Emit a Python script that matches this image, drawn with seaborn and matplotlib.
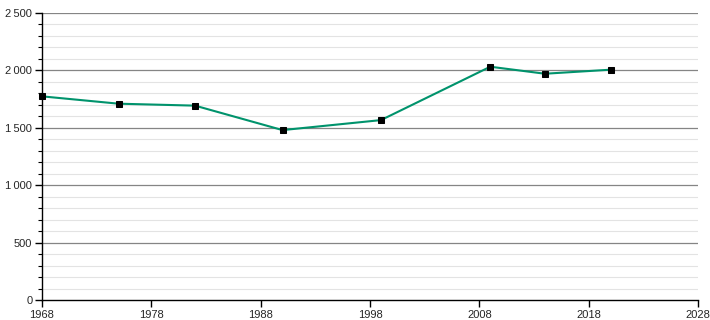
import matplotlib
matplotlib.use("Agg")
import matplotlib.pyplot as plt
import seaborn as sns
import pandas as pd
from matplotlib.ticker import MultipleLocator, FixedLocator, FuncFormatter

years = [1968, 1975, 1982, 1990, 1999, 2009, 2014, 2020]
population = [1774, 1710, 1693, 1480, 1567, 2032, 1971, 2006]
x_ticks = [1968, 1978, 1988, 1998, 2008, 2018, 2028]
y_ticks = [0, 500, 1000, 1500, 2000, 2500]

df = pd.DataFrame({"year": years, "pop": population})

sns.set_theme(style="white")
plt.rcParams["font.family"] = ["Liberation Sans", "DejaVu Sans"]

fig = plt.figure(figsize=(7.1, 3.2), dpi=100)
ax = fig.add_axes([42 / 710, 20 / 320, 656 / 710, 287 / 320])

ax.set_xlim(1968, 2028)
ax.set_ylim(0, 2500)

# grid
for v in range(100, 2500, 100):
    if v % 500 != 0:
        ax.axhline(v, color="#e3e3e3", lw=0.8, zorder=0)
for v in y_ticks[1:]:
    ax.axhline(v, color="#858585", lw=0.9, zorder=0)

sns.lineplot(data=df, x="year", y="pop", ax=ax, color="#00936c", lw=1.5,
             marker="s", markersize=3.8, markerfacecolor="black",
             markeredgecolor="black", zorder=3, clip_on=False)

ax.xaxis.set_major_locator(FixedLocator(x_ticks))
ax.yaxis.set_major_locator(FixedLocator(y_ticks))
ax.yaxis.set_minor_locator(MultipleLocator(100))
fmt = lambda v, p: f"{int(v):,}".replace(",", "\u2009")
ax.yaxis.set_major_formatter(FuncFormatter(fmt))

for s in ["top", "right"]:
    ax.spines[s].set_visible(False)
for s in ["left", "bottom"]:
    ax.spines[s].set_color("black")
    ax.spines[s].set_linewidth(1.0)

ax.tick_params(axis="both", which="major", direction="out", length=5, width=1,
               color="black", labelsize=8, pad=2, bottom=True, left=True)
ax.tick_params(axis="y", which="minor", direction="out", length=3, width=0.8,
               color="black", left=True)
ax.set_xlabel("")
ax.set_ylabel("")

fig.savefig("out.png", dpi=100)
